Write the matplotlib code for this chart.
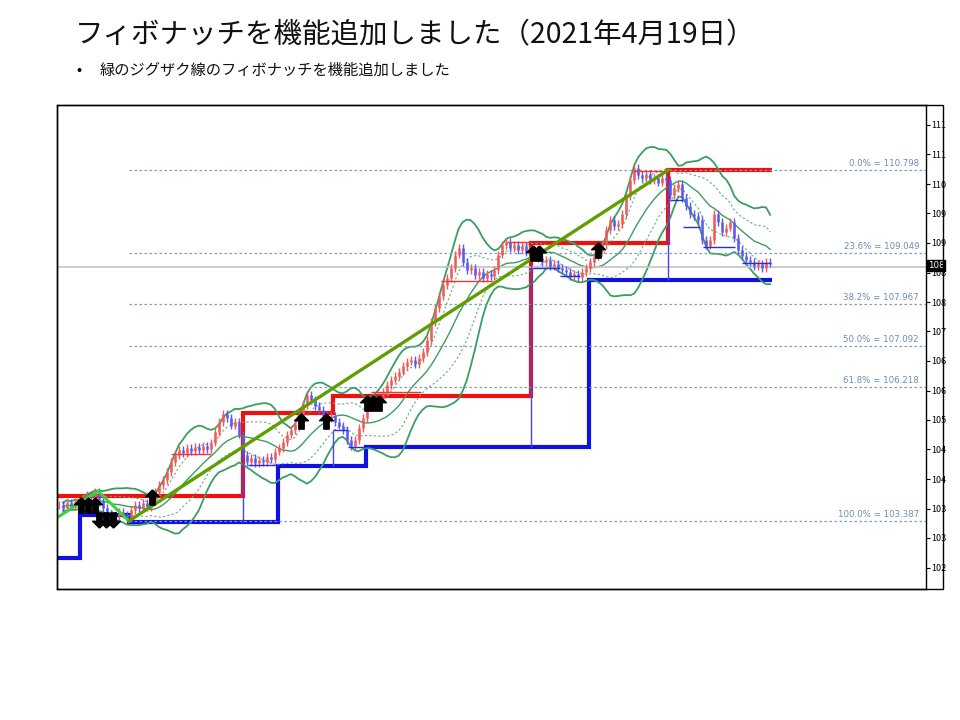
import numpy as np
import pandas as pd
import matplotlib
matplotlib.use("Agg")
import matplotlib.pyplot as plt
from matplotlib.patches import Rectangle

plt.rcParams['font.family'] = ['Noto Sans CJK JP', 'DejaVu Sans']

# closing prices, one bar every 4 px in the screenshot
closes = [103.72, 103.66, 103.77, 103.70, 103.79, 103.75, 103.87, 103.94, 103.90, 104.00,
          103.83, 103.66, 103.54, 103.45, 103.49, 103.58, 103.52, 103.45, 103.62, 103.72,
          103.66, 103.77, 103.68, 103.83, 104.00, 104.15, 104.25, 104.42, 104.63, 104.78,
          104.89, 104.82, 104.93, 104.87, 104.95, 104.89, 104.97, 104.91, 105.04, 105.27,
          105.48, 105.65, 105.56, 105.40, 105.48, 105.21, 104.78, 104.63, 104.72, 104.61,
          104.68, 104.63, 104.74, 104.70, 104.85, 104.93, 105.06, 105.21, 105.31, 105.44,
          105.61, 105.84, 106.05, 105.94, 105.82, 105.73, 105.63, 105.56, 105.61, 105.48,
          105.40, 105.31, 105.10, 104.97, 105.10, 105.35, 105.56, 105.78, 105.88, 105.94,
          106.03, 106.11, 106.26, 106.37, 106.45, 106.54, 106.66, 106.75, 106.79, 106.70,
          106.83, 106.96, 107.21, 107.59, 107.89, 108.14, 108.37, 108.52, 108.73, 109.01,
          109.15, 108.86, 108.69, 108.73, 108.58, 108.65, 108.52, 108.60, 108.56, 108.69,
          109.01, 109.22, 109.28, 109.15, 109.22, 109.11, 109.20, 109.07, 109.11, 109.01,
          108.94, 108.86, 108.90, 108.77, 108.82, 108.73, 108.69, 108.65, 108.56, 108.60,
          108.54, 108.65, 108.73, 108.86, 108.98, 109.11, 109.24, 109.53, 109.74, 109.62,
          109.66, 109.87, 110.25, 110.59, 110.84, 110.69, 110.63, 110.72, 110.59, 110.63,
          110.53, 110.63, 110.59, 110.27, 110.42, 110.50, 110.21, 110.04, 109.87, 109.83,
          109.74, 109.32, 109.20, 109.32, 109.87, 109.70, 109.49, 109.58, 109.70, 109.36,
          109.11, 108.98, 108.90, 108.86, 108.77, 108.82, 108.73, 108.86, 108.82]

# thick high / low step lines (edges in bar index)
red_edges = [-0.25, 46, 68.5, 118.25, 152.5, 178.5]
red_levels = [103.91, 105.67, 106.03, 109.26, 110.80]
blue_edges = [-0.25, 5.25, 17.5, 54.75, 76.75, 132.75, 178.5]
blue_levels = [102.61, 103.52, 103.37, 104.55, 104.95, 108.48]

# thin short-term high / low segments
thin_red_start = [28, 78, 95.5, 112.25, 143.75]
thin_red_end = [38, 90.5, 108.5, 118, 152.5]
thin_red_level = [104.80, 106.11, 108.46, 109.28, 110.78]
thin_blue_start = [47.25, 68.5, 72.25, 118.75, 125.5, 153, 156.25, 161.25, 171]
thin_blue_end = [54.75, 72.25, 76.75, 125.5, 130.5, 156.25, 160.5, 169.25, 178]
thin_blue_level = [104.57, 105.31, 104.95, 108.73, 108.56, 110.17, 109.60, 109.17, 108.84]
thin_vert_x = [46, 68.5, 118.25, 152.5]
thin_vert_lo = [103.37, 104.55, 104.95, 108.48]
thin_vert_hi = [104.89, 105.31, 108.80, 110.53]

# zigzag points
zz_x = [-0.25, 9.75, 17.5, 152.5]
zz_y = [103.47, 104.02, 103.387, 110.798]

# fibonacci levels of the last zigzag leg
fib_levels = [110.798, 109.049, 107.967, 107.092, 106.218, 103.387]
fib_labels = ["0.0% = 110.798", "23.6% = 109.049", "38.2% = 107.967",
              "50.0% = 107.092", "61.8% = 106.218", "100.0% = 103.387"]

# signal arrows
up_x = [5.5, 7.25, 9, 23.25, 60.5, 66.75, 77, 78.5, 80, 118.75, 120.25, 135]
up_y = [103.72, 103.72, 103.72, 103.90, 105.50, 105.50, 105.88, 105.88, 105.88, 109.05, 109.05, 109.11]
down_x = [10, 11.75, 13.5]
down_y = [103.41, 103.41, 103.41]

current_price = 108.75

# price scale of the screenshot
tick_vals = [111.75, 111.13, 110.50, 109.88, 109.26, 108.63, 108.01, 107.39,
             106.77, 106.14, 105.52, 104.90, 104.27, 103.65, 103.03, 102.40]
tick_labels = ["111", "111", "110", "109", "109", "108", "108", "107",
               "106", "106", "105", "104", "104", "103", "103", "102"]

W, H = 960, 720
fig = plt.figure(figsize=(9.6, 7.2), dpi=100)
fig.patch.set_facecolor("white")

fig.text(75 / W, 1 - 35 / H, "フィボナッチを機能追加しました（2021年4月19日）",
         fontsize=20.5, va="center", ha="left", color="#111111")
fig.text(76 / W, 1 - 70 / H, "•", fontsize=11, va="center", ha="left")
fig.text(100 / W, 1 - 70 / H, "緑のジグザク線のフィボナッチを機能追加しました",
         fontsize=11, va="center", ha="left", color="#111111")

ax = fig.add_axes([57 / W, 1 - 589 / H, (926 - 57) / W, (589 - 105) / H])
# outer frame of the screenshot
fig.patches.append(Rectangle((57 / W, 1 - 589 / H), (943 - 57) / W, (589 - 105) / H,
                             transform=fig.transFigure, fill=False, ec="black", lw=1))

x = np.arange(len(closes))
c = np.array(closes)
o = np.r_[c[0], c[:-1]]
hi = np.maximum(o, c) + 0.08
lo = np.minimum(o, c) - 0.08
cols = np.where(c >= o, "#F05A5A", "#5A5AF0")

# bollinger bands from the closes
s = pd.Series(c)
mid = s.rolling(14, min_periods=2).mean()
sd = s.rolling(14, min_periods=2).std()
ax.plot(x, mid + 2 * sd, color="#3A9E5F", lw=1.3)
ax.plot(x, mid - 2 * sd, color="#3A9E5F", lw=1.3)
ax.plot(x, mid, color="#3A9E5F", lw=1.0)
ax.plot(x, mid + sd, color="#62B07E", lw=0.8, ls=(0, (2, 2)))
ax.plot(x, mid - sd, color="#62B07E", lw=0.8, ls=(0, (2, 2)))

# fib lines
ax.hlines(fib_levels, 17.5, 217, colors="#7F9DBF", linestyles=(0, (2, 2)), lw=0.9)
for lv, lb in zip(fib_levels, fib_labels):
    ax.text(0.992, lv + 0.04, lb, transform=ax.get_yaxis_transform(), ha="right",
            va="bottom", fontsize=6.2, color="#6A8CB5", family="DejaVu Sans")

# current price line
ax.axhline(current_price, color="#C4C4C4", lw=1.2)

# bars
ax.vlines(x, lo, hi, colors=cols, lw=1.0)
ax.vlines(x, np.minimum(o, c), np.maximum(o, c), colors=cols, lw=1.8)

# thin lines
ax.hlines(thin_red_level, thin_red_start, thin_red_end, colors="#FF3030", lw=1)
ax.hlines(thin_blue_level, thin_blue_start, thin_blue_end, colors="#2828F0", lw=1)
ax.vlines(thin_vert_x, thin_vert_lo, thin_vert_hi, colors="#4646F0", lw=1)

# thick step lines
ax.stairs(red_levels, red_edges, baseline=None, color="#F01010", lw=3)
ax.stairs(blue_levels, blue_edges, baseline=None, color="#1010E0", lw=3)

# zigzag
ax.plot(zz_x[:3], zz_y[:3], color="#3CD23C", lw=2.2)
ax.plot(zz_x[2:], zz_y[2:], color="#5E9E00", lw=2.4)

# arrows
up_arrow = [(0, 1), (-0.9, 0.1), (-0.35, 0.1), (-0.35, -1), (0.35, -1), (0.35, 0.1), (0.9, 0.1), (0, 1)]
down_arrow = [(px, -py) for px, py in up_arrow]
ax.plot(up_x, up_y, ls="none", marker=up_arrow, ms=11, color="black")
ax.plot(down_x, down_y, ls="none", marker=down_arrow, ms=11, color="black")

ax.set_xlim(-0.5, 217)
ax.set_ylim(101.951, 112.170)
ax.set_xticks([])
ax.yaxis.tick_right()
ax.set_yticks(tick_vals)
ax.set_yticklabels(tick_labels)
ax.tick_params(axis="y", length=3, width=0.8, pad=1, labelsize=6.5)
for sp in ax.spines.values():
    sp.set_linewidth(1)

# current price marker on the scale (sits over the 108 tick like in MT4)
ax.text(1.002, current_price + 0.03, "108", transform=ax.get_yaxis_transform(), ha="left",
        va="center", fontsize=6.2, color="white", family="DejaVu Sans",
        bbox=dict(boxstyle="square,pad=0.1", fc="black", ec="black"))

fig.savefig("out.png", dpi=100)
